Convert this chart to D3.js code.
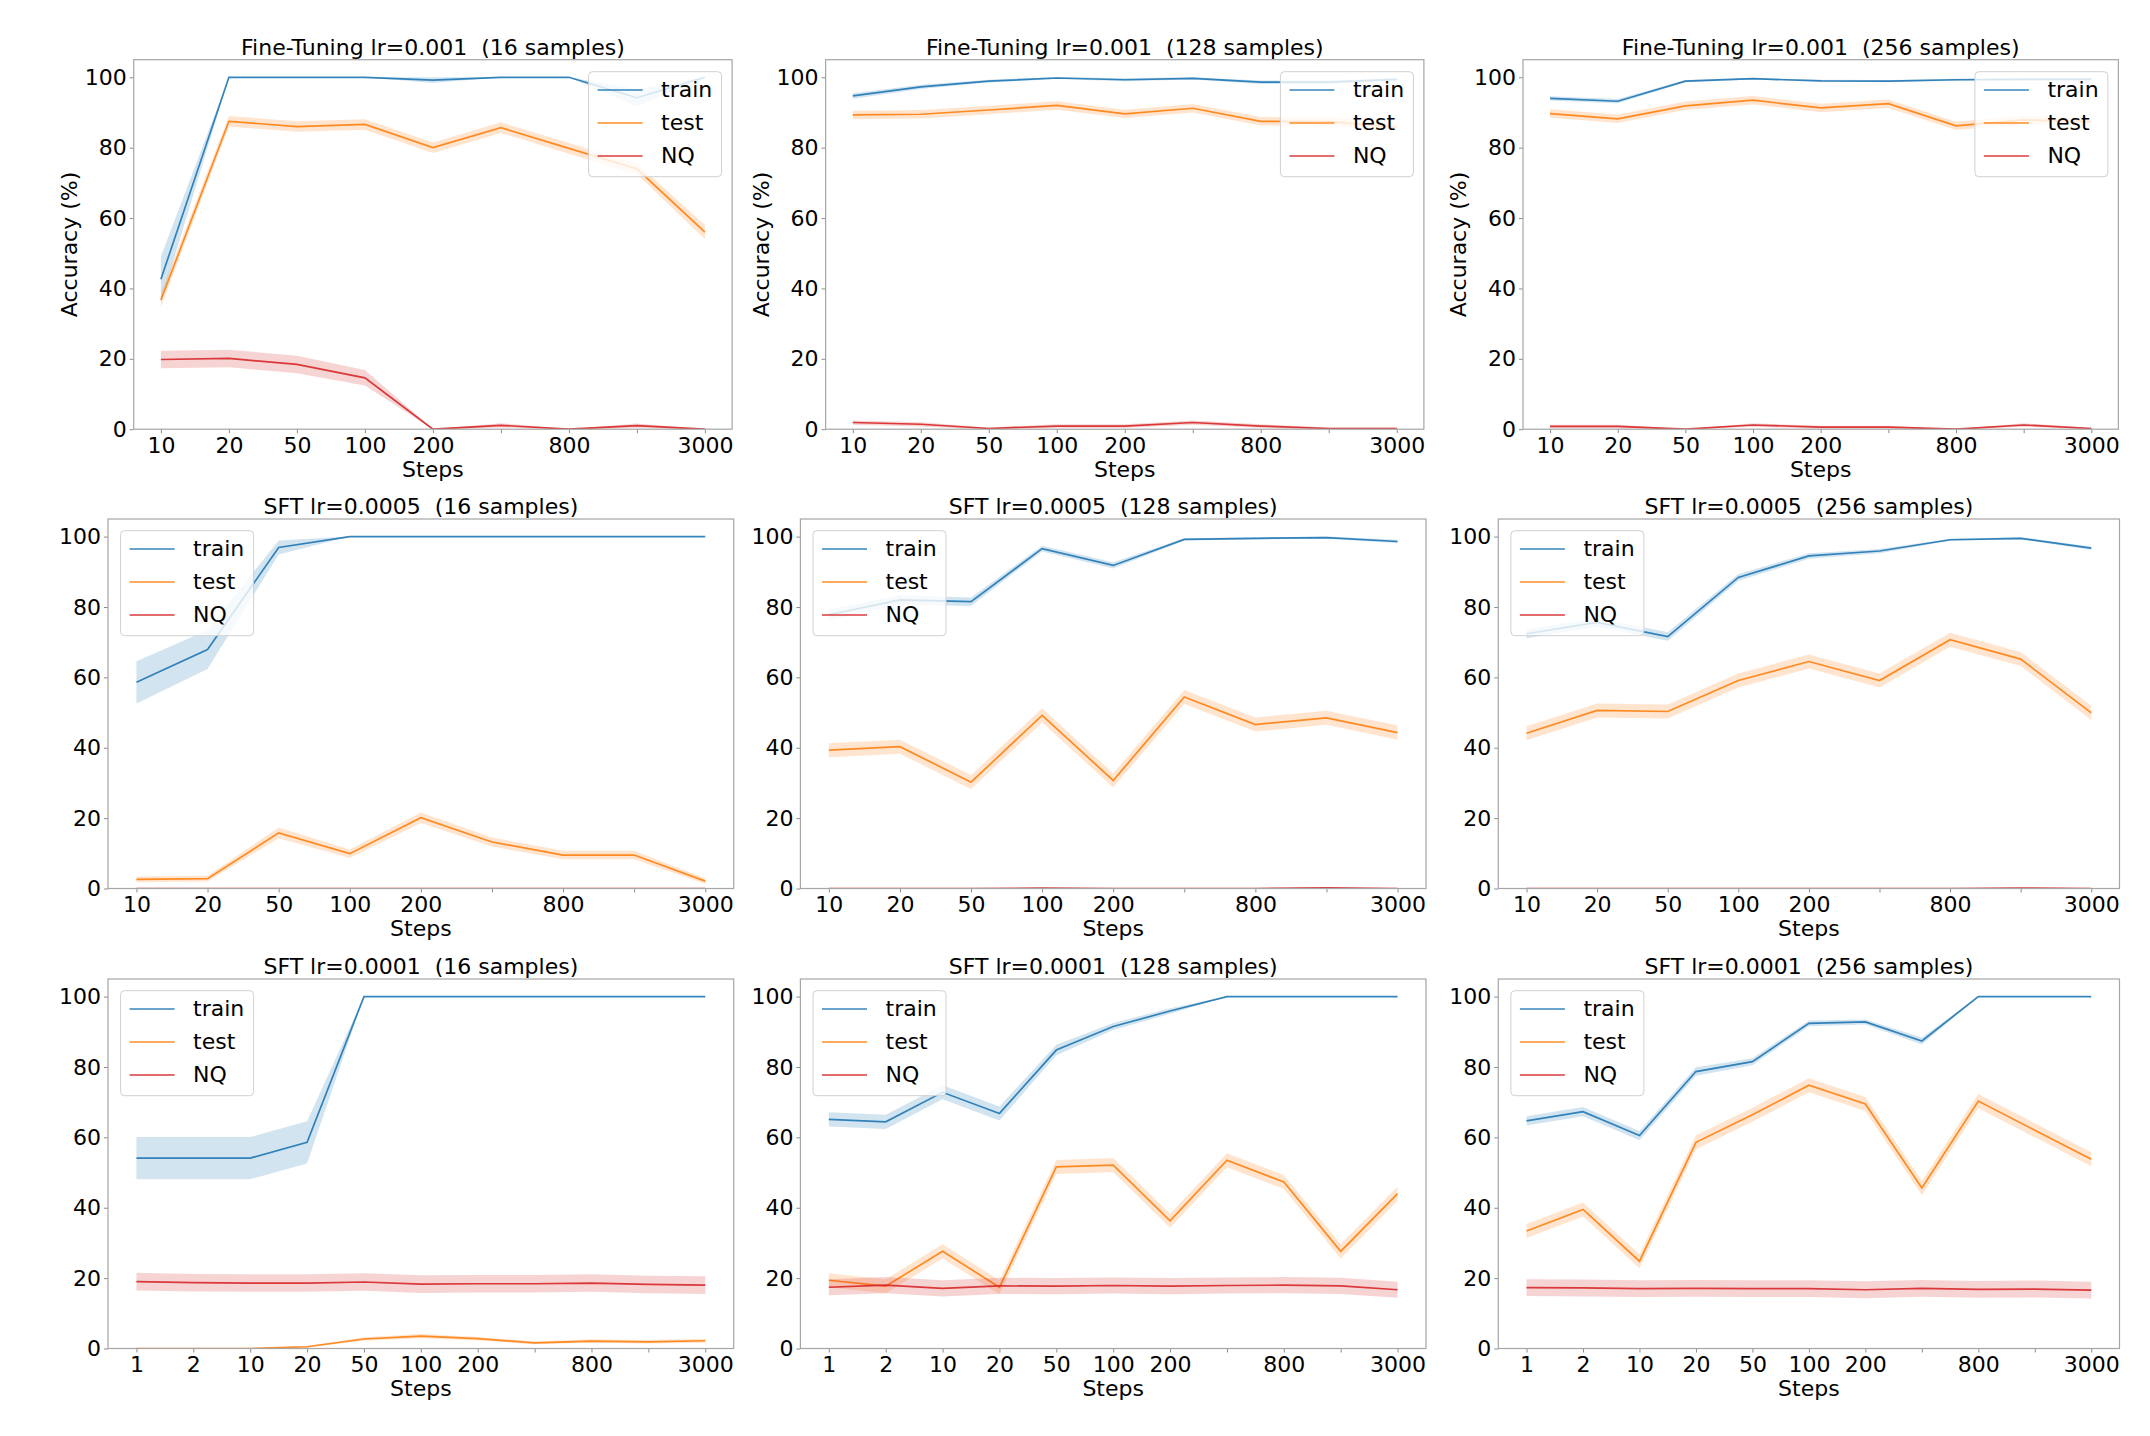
<!DOCTYPE html>
<html>
<head>
<meta charset="utf-8">
<script src="https://cdn.jsdelivr.net/npm/d3@7"></script>
<style>
  body { margin: 0; background: #fff; }
  text { font-family: "DejaVu Sans", sans-serif; }
</style>
</head>
<body>
<script>
// Step categories and tick labels
const steps9 = ["10", "20", "50", "100", "200", "400", "800", "1600", "3000"];
const labels9 = ["10", "20", "50", "100", "200", "", "800", "", "3000"];
const steps11 = ["1", "2", "10", "20", "50", "100", "200", "400", "800", "1600", "3000"];
const labels11 = ["1", "2", "10", "20", "50", "100", "200", "", "800", "", "3000"];

const seriesNames = ["train", "test", "NQ"];
const titles = [
    "Fine-Tuning lr=0.001  (16 samples)", "Fine-Tuning lr=0.001  (128 samples)", "Fine-Tuning lr=0.001  (256 samples)",
    "SFT lr=0.0005  (16 samples)", "SFT lr=0.0005  (128 samples)", "SFT lr=0.0005  (256 samples)",
    "SFT lr=0.0001  (16 samples)", "SFT lr=0.0001  (128 samples)", "SFT lr=0.0001  (256 samples)"
];

// Fine-Tuning lr=0.001
const ft16Train = [42.6, 100, 100, 100, 99.2, 100, 100, 94.2, 100];
const ft16TrainCi = [6.5, 0, 0, 0, 0.8, 0, 0, 2.5, 0];
const ft16Test = [36.7, 87.5, 86.0, 86.6, 80.0, 85.7, 79.8, 74.0, 56.0];
const ft16TestCi = [2, 1.5, 1.5, 1.5, 1.5, 1.5, 1.5, 1.5, 2];
const ft16NQ = [19.8, 20.1, 18.4, 14.6, 0, 1.1, 0, 1.0, 0];
const ft16NQCi = [2.5, 2.5, 2.5, 2.2, 0, 0.6, 0, 0.6, 0];

const ft128Train = [94.7, 97.3, 98.9, 99.8, 99.3, 99.7, 98.6, 98.6, 99.4];
const ft128TrainCi = [0.8, 0.6, 0.4, 0.3, 0.4, 0.3, 0.5, 0.5, 0.4];
const ft128Test = [89.3, 89.5, 90.7, 92.0, 89.6, 91.2, 87.5, 87.4, 85.8];
const ft128TestCi = [1.2, 1.2, 1.2, 1.2, 1.2, 1.2, 1.2, 1.2, 1.2];
const ft128NQ = [1.9, 1.4, 0.2, 0.9, 0.9, 1.9, 0.9, 0.2, 0.2];
const ft128NQCi = [0.6, 0.6, 0.3, 0.5, 0.5, 0.6, 0.5, 0.3, 0.3];

const ft256Train = [94.0, 93.2, 98.9, 99.6, 99.0, 98.9, 99.3, 99.4, 99.4];
const ft256TrainCi = [0.6, 0.6, 0.3, 0.2, 0.3, 0.3, 0.3, 0.3, 0.3];
const ft256Test = [89.7, 88.2, 91.9, 93.5, 91.3, 92.5, 86.2, 87.9, 87.4];
const ft256TestCi = [1.2, 1.2, 1.2, 1.2, 1.2, 1.2, 1.2, 1.2, 1.2];
const ft256NQ = [0.8, 0.8, 0, 1.2, 0.6, 0.6, 0, 1.2, 0.2];
const ft256NQCi = [0.5, 0.5, 0, 0.5, 0.4, 0.4, 0, 0.5, 0.2];

// SFT lr=0.0005
const s5_16Train = [58.6, 67.9, 96.9, 100, 100, 100, 100, 100, 100];
const s5_16TrainCi = [6, 5.5, 2, 0, 0, 0, 0, 0, 0];
const s5_16Test = [2.6, 2.8, 15.8, 9.9, 20.1, 13.2, 9.5, 9.5, 2.1];
const s5_16TestCi = [0.8, 0.8, 1.5, 1.2, 1.5, 1.3, 1.2, 1.2, 0.8];
const s5_16NQ = [0, 0, 0, 0, 0, 0, 0, 0, 0];
const s5_16NQCi = [0, 0, 0, 0, 0, 0, 0, 0, 0];

const s5_128Train = [77.8, 82.0, 81.5, 96.6, 91.8, 99.2, 99.5, 99.7, 98.6];
const s5_128TrainCi = [1.5, 1.3, 1.2, 0.8, 0.9, 0.3, 0.3, 0.3, 0.5];
const s5_128Test = [39.3, 40.3, 30.2, 49.2, 30.7, 54.4, 46.6, 48.5, 44.3];
const s5_128TestCi = [2, 2, 2, 2, 2, 2, 2, 2, 2];
const s5_128NQ = [0, 0, 0, 0.1, 0, 0, 0, 0.2, 0];
const s5_128NQCi = [0, 0, 0, 0.1, 0, 0, 0, 0.1, 0];

const s5_256Train = [72.4, 75.6, 71.6, 88.4, 94.5, 95.9, 99.1, 99.5, 96.7];
const s5_256TrainCi = [1.3, 1.2, 1.2, 1, 0.8, 0.6, 0.3, 0.3, 0.5];
const s5_256Test = [44.1, 50.6, 50.3, 59.1, 64.5, 59.1, 70.7, 65.2, 49.9];
const s5_256TestCi = [2, 2, 2, 2, 2, 2, 2, 2, 2];
const s5_256NQ = [0, 0, 0, 0, 0, 0, 0, 0.1, 0];
const s5_256NQCi = [0, 0, 0, 0, 0, 0, 0, 0.1, 0];

// SFT lr=0.0001
const s1_16Train = [54.1, 54.1, 54.1, 58.6, 100, 100, 100, 100, 100, 100, 100];
const s1_16TrainCi = [6, 6, 6, 6, 0, 0, 0, 0, 0, 0, 0];
const s1_16Test = [0, 0, 0, 0.5, 2.7, 3.5, 2.8, 1.6, 2.1, 1.9, 2.2];
const s1_16TestCi = [0, 0, 0, 0.2, 0.5, 0.6, 0.5, 0.4, 0.5, 0.5, 0.6];
const s1_16NQ = [19.0, 18.7, 18.6, 18.6, 18.9, 18.3, 18.4, 18.4, 18.6, 18.2, 18.0];
const s1_16NQCi = [2.5, 2.5, 2.5, 2.5, 2.5, 2.5, 2.5, 2.5, 2.5, 2.5, 2.5];

const s1_128Train = [65.1, 64.4, 72.8, 66.8, 84.8, 91.5, 95.9, 100, 100, 100, 100];
const s1_128TrainCi = [2, 2, 2, 2, 1.5, 1, 0.8, 0, 0, 0, 0];
const s1_128Test = [19.4, 17.7, 27.6, 17.4, 51.6, 52.1, 36.3, 53.5, 47.3, 27.6, 44.0];
const s1_128TestCi = [2, 2, 2, 2, 2, 2, 2, 2, 2, 2, 2];
const s1_128NQ = [17.4, 18.0, 17.1, 17.8, 17.7, 17.9, 17.7, 17.9, 18.0, 17.8, 16.7];
const s1_128NQCi = [2.3, 2.3, 2.3, 2.3, 2.3, 2.3, 2.3, 2.3, 2.3, 2.3, 2.3];

const s1_256Train = [64.7, 67.3, 60.5, 78.7, 81.5, 92.4, 92.8, 87.4, 100, 100, 100];
const s1_256TrainCi = [1.3, 1.3, 1.3, 1.2, 1, 0.8, 0.7, 1, 0, 0, 0];
const s1_256Test = [33.4, 39.5, 24.8, 58.6, 66.4, 74.8, 69.5, 45.6, 70.3, 62.0, 53.8];
const s1_256TestCi = [2, 2, 2, 2, 2, 2, 2, 2, 2, 2, 2];
const s1_256NQ = [17.3, 17.2, 17.0, 17.1, 17.0, 17.0, 16.7, 17.1, 16.8, 16.9, 16.6];
const s1_256NQCi = [2.4, 2.4, 2.4, 2.4, 2.4, 2.4, 2.4, 2.4, 2.4, 2.4, 2.4];

// Panel table built from the arrays above
const panels = [
    [steps9, labels9, [ft16Train, ft16Test, ft16NQ], [ft16TrainCi, ft16TestCi, ft16NQCi]],
    [steps9, labels9, [ft128Train, ft128Test, ft128NQ], [ft128TrainCi, ft128TestCi, ft128NQCi]],
    [steps9, labels9, [ft256Train, ft256Test, ft256NQ], [ft256TrainCi, ft256TestCi, ft256NQCi]],
    [steps9, labels9, [s5_16Train, s5_16Test, s5_16NQ], [s5_16TrainCi, s5_16TestCi, s5_16NQCi]],
    [steps9, labels9, [s5_128Train, s5_128Test, s5_128NQ], [s5_128TrainCi, s5_128TestCi, s5_128NQCi]],
    [steps9, labels9, [s5_256Train, s5_256Test, s5_256NQ], [s5_256TrainCi, s5_256TestCi, s5_256NQCi]],
    [steps11, labels11, [s1_16Train, s1_16Test, s1_16NQ], [s1_16TrainCi, s1_16TestCi, s1_16NQCi]],
    [steps11, labels11, [s1_128Train, s1_128Test, s1_128NQ], [s1_128TrainCi, s1_128TestCi, s1_128NQCi]],
    [steps11, labels11, [s1_256Train, s1_256Test, s1_256NQ], [s1_256TrainCi, s1_256TestCi, s1_256NQCi]]
];

const colors = ["#1f77b4", "#ff7f0e", "#d62728"];

// Figure layout
const width = 2150;
const height = 1436;
const fontSize = 22;
const rowTop = [59.7, 519, 979];
const axH = 369.5;
const colsTop = [[133.7, 732.1], [825.6, 1423.9], [1523, 2118.4]];
const colsLow = [[108, 733.7], [800.4, 1426], [1498.3, 2119.5]];

const svg = d3.select("body").append("svg")
    .attr("width", width)
    .attr("height", height)
    .attr("viewBox", [0, 0, width, height]);

panels.forEach(function(p, i) {
    const [steps, labels, values, cis] = p;
    const r = Math.floor(i / 3), c = i % 3;
    const [left, right] = r === 0 ? colsTop[c] : colsLow[c];
    const top = rowTop[r];
    const bottom = top + axH;
    const n = steps.length;

    const x = d3.scalePoint().domain(steps).range([left, right]).padding(0.05 * (n - 1));
    const y = d3.scaleLinear().domain([0, 105]).range([bottom, top]);

    const g = svg.append("g");

    // clip to the axes box
    g.append("clipPath").attr("id", "clip" + i)
        .append("rect")
        .attr("x", left).attr("y", top)
        .attr("width", right - left).attr("height", bottom - top);

    const plot = g.append("g").attr("clip-path", `url(#clip${i})`);

    values.forEach(function(vals, s) {
        const rows = vals.map((v, k) => ({ step: steps[k], v: v, ci: cis[s][k] }));

        const area = d3.area()
            .x(d => x(d.step))
            .y0(d => y(d.v - d.ci))
            .y1(d => y(d.v + d.ci));

        const line = d3.line()
            .x(d => x(d.step))
            .y(d => y(d.v));

        plot.append("path")
            .attr("d", area(rows))
            .attr("fill", colors[s])
            .attr("fill-opacity", 0.2)
            .attr("stroke", "none");

        plot.append("path")
            .attr("d", line(rows))
            .attr("fill", "none")
            .attr("stroke", colors[s])
            .attr("stroke-opacity", 0.9)
            .attr("stroke-width", 1.7);
    });

    // x-axis
    const xAxis = g.append("g")
        .attr("transform", `translate(0,${bottom})`)
        .call(d3.axisBottom(x).tickSize(4).tickPadding(4).tickFormat((d, k) => labels[k]));

    // y-axis
    const yAxis = g.append("g")
        .attr("transform", `translate(${left},0)`)
        .call(d3.axisLeft(y).tickValues([0, 20, 40, 60, 80, 100]).tickSize(4).tickPadding(3));

    [xAxis, yAxis].forEach(function(a) {
        a.select(".domain").remove();
        a.selectAll(".tick line").attr("stroke", "#8c8c8c");
        a.selectAll(".tick text")
            .attr("font-size", fontSize)
            .attr("font-family", "DejaVu Sans")
            .attr("fill", "#000");
    });

    // frame
    g.append("rect")
        .attr("x", left).attr("y", top)
        .attr("width", right - left).attr("height", bottom - top)
        .attr("fill", "none")
        .attr("stroke", "#a6a6a6")
        .attr("stroke-width", 1.2);

    // title
    g.append("text")
        .attr("x", (left + right) / 2)
        .attr("y", top - 5)
        .attr("text-anchor", "middle")
        .attr("font-size", fontSize)
        .style("white-space", "pre")
        .text(titles[i]);

    // x label
    g.append("text")
        .attr("x", (left + right) / 2)
        .attr("y", bottom + 47.7)
        .attr("text-anchor", "middle")
        .attr("font-size", fontSize)
        .text("Steps");

    // y label only on the top row
    if (r === 0) {
        g.append("text")
            .attr("transform", `translate(${left - 64.5},${(top + bottom) / 2}) rotate(-90)`)
            .attr("text-anchor", "middle")
            .attr("dominant-baseline", "central")
            .attr("font-size", fontSize)
            .text("Accuracy (%)");
    }

    // legend
    const lw = 133, lh = 105;
    const lx = r === 0 ? right - 10.5 - lw : left + 12.6;
    const ly = r === 0 ? top + 12 : top + 11.7;
    const leg = g.append("g").attr("transform", `translate(${lx},${ly})`);
    leg.append("rect")
        .attr("width", lw).attr("height", lh)
        .attr("rx", 4).attr("ry", 4)
        .attr("fill", "#fff").attr("fill-opacity", 0.8)
        .attr("stroke", "#d0d0d0").attr("stroke-width", 1);
    seriesNames.forEach(function(name, s) {
        const yy = 18.3 + s * 33;
        leg.append("line")
            .attr("x1", 9).attr("x2", 54)
            .attr("y1", yy).attr("y2", yy)
            .attr("stroke", colors[s])
            .attr("stroke-opacity", 0.9)
            .attr("stroke-width", 1.7);
        leg.append("text")
            .attr("x", 72.5).attr("y", yy + 7.5)
            .attr("font-size", fontSize)
            .text(name);
    });
});
</script>
</body>
</html>
